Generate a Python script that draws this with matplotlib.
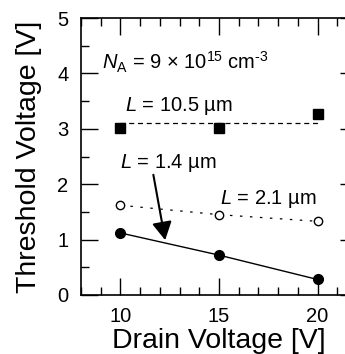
import numpy as np
import matplotlib.pyplot as plt

plt.rcParams['font.family'] = ['Liberation Sans', 'DejaVu Sans']
plt.rcParams['mathtext.fontset'] = 'custom'
plt.rcParams['mathtext.rm'] = 'Liberation Sans'
plt.rcParams['mathtext.it'] = 'Liberation Sans:italic'

# data
drain_v = [10, 15, 20]
vth_l10p5 = [3.02, 3.02, 3.27]
vth_l2p1 = [1.62, 1.45, 1.33]
vth_l1p4 = [1.12, 0.72, 0.28]
fit_l10p5 = [3.10, 3.10]

fig = plt.figure(figsize=(3.45, 3.54), dpi=100)
# right spine sits just past the image edge, as in the original crop
ax = fig.add_axes([81 / 345, 1 - 295 / 354, (357 - 81) / 345, (295 - 18) / 354])

# L = 10.5 um
ax.plot([drain_v[0], drain_v[-1]], fit_l10p5, color='black', lw=0.9,
        linestyle=(0, (4, 3)))
ax.plot(drain_v, vth_l10p5, 's', color='black', ms=7.5)

# L = 2.1 um
ax.plot(drain_v, vth_l2p1, color='black', lw=0.9,
        linestyle=(0, (2, 6)))
ax.plot(drain_v, vth_l2p1, 'o', mfc='white', mec='black', mew=1.0, ms=6)

# L = 1.4 um
ax.plot(drain_v, vth_l1p4, color='black', lw=1.0)
ax.plot(drain_v, vth_l1p4, 'o', color='black', ms=7)

ax.annotate('', xy=(12.27, 0.99), xytext=(11.67, 2.17),
            arrowprops=dict(arrowstyle='-|>,head_length=1.1,head_width=0.6',
                            color='black', lw=1.5, shrinkA=0, shrinkB=0))

ax.text(9.05, 4.2, r'$\it{N}_{\rm A}$ = 9 × 10$^{15}$ cm$^{\text{-3}}$',
        fontsize=14.5, va='center', ha='left')
ax.text(10.25, 3.42, r'$\it{L}$ = 10.5 µm', fontsize=14.5, va='center', ha='left')
ax.text(10.0, 2.38, r'$\it{L}$ = 1.4 µm', fontsize=14.5, va='center', ha='left')
ax.text(15.05, 1.73, r'$\it{L}$ = 2.1 µm', fontsize=14.5, va='center', ha='left')

ax.set_xlim(8, 22)
ax.set_ylim(0, 5)
ax.set_xticks([10, 15, 20])
ax.set_xticks(np.arange(8, 23, 1), minor=True)
ax.set_yticks([0, 1, 2, 3, 4, 5])
ax.set_yticks(np.arange(0, 5, 0.5), minor=True)
ax.tick_params(which='both', direction='in', top=True, right=True,
               labelsize=14.5, width=1.0, pad=9)
ax.tick_params(which='major', length=12)
ax.tick_params(which='minor', length=6)
for s in ax.spines.values():
    s.set_linewidth(1.2)

ax.set_xlabel('Drain Voltage [V]', fontsize=20.5, labelpad=1)
ax.set_ylabel('Threshold Voltage [V]', fontsize=20.5, labelpad=11)

fig.savefig('out.png', dpi=100)
